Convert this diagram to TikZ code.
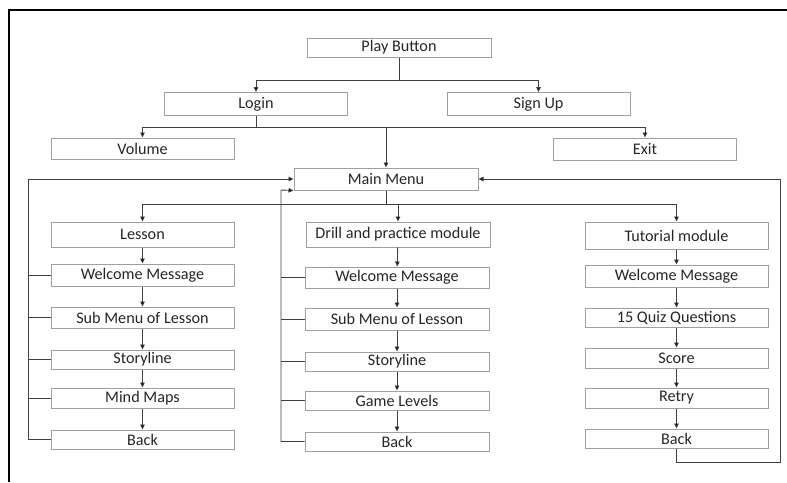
\documentclass[tikz,border=0pt]{standalone}
\usepackage{fontspec}
\setmainfont{Carlito}
\usetikzlibrary{arrows.meta}

\begin{document}
\begin{tikzpicture}[x=1pt,y=-1pt,
  box/.style={draw=gray!75,line width=1pt,inner sep=0pt,minimum width=183,
    font=\fontsize{16.2}{18}\selectfont,text=black!85},
  line/.style={draw=gray!50!black,line width=0.9pt},
  arr/.style={line,-{Triangle[length=5pt,width=4.5pt,fill=black]}}]

\useasboundingbox (0,0) rectangle (787,482);
\draw[line width=2.2pt] (9,482) -- (9,10) -- (787,10);

% top part
\node[box,minimum width=184,minimum height=19] (play) at (399,47.5) {Play Button};
\node[box,minimum height=23] (login) at (256,104) {Login};
\node[box,minimum height=23] (signup) at (538.5,104) {Sign Up};
\node[box,minimum height=21] (volume) at (142.5,148.5) {Volume};
\node[box,minimum height=22] (exit) at (645,149) {Exit};
\node[box,minimum width=184,minimum height=22] (main) at (386,179) {Main Menu};

% lesson column
\node[box,minimum height=25] (lesson) at (142.5,234.5) {Lesson};
\node[box,minimum height=22] (lwel) at (142.5,275) {Welcome Message};
\node[box,minimum height=21] (lsub) at (142.5,317.5) {Sub Menu of Lesson};
\node[box,minimum height=19] (lstory) at (142.5,359.5) {Storyline};
\node[box,minimum height=20] (lmind) at (142.5,398) {Mind Maps};
\node[box,minimum height=19] (lback) at (142.5,439.5) {Back};

% drill column
\node[box,minimum width=184,minimum height=25] (drill) at (398,234.5) {Drill and practice module};
\node[box,minimum width=184,minimum height=21] (dwel) at (397,277.5) {Welcome Message};
\node[box,minimum width=184,minimum height=22] (dsub) at (397,319) {Sub Menu of Lesson};
\node[box,minimum width=184,minimum height=19] (dstory) at (397,361.5) {Storyline};
\node[box,minimum width=184,minimum height=19] (dgame) at (397,400.5) {Game Levels};
\node[box,minimum width=184,minimum height=19] (dback) at (397,441.5) {Back};

% tutorial column
\node[box,minimum height=27] (tut) at (676.5,235.5) {Tutorial module};
\node[box,minimum height=22] (twel) at (676.5,276) {Welcome Message};
\node[box,minimum height=19] (tquiz) at (676.5,317.5) {15 Quiz Questions};
\node[box,minimum height=20] (tscore) at (676.5,358) {Score};
\node[box,minimum height=20] (tretry) at (676.5,398) {Retry};
\node[box,minimum height=19] (tback) at (676.5,438.5) {Back};

\coordinate (lrail) at (28,179);
\coordinate (mrail) at (281,190);
\coordinate (rrail) at (780,462);

% branches
\draw[arr] (play.south) -- ++(0,22.5) -| (login.north);
\draw[arr] (play.south) -- ++(0,22.5) -| (signup.north);
\draw[arr] (login.south) -- ++(0,11) -| (volume.north);
\draw[arr] (login.south) -- ++(0,11) -| (exit.north);
\draw[arr] (login.south) -- ++(0,11) -| (main.north);
\draw[arr] (main.south) -- ++(0,14) -| (lesson.north);
\draw[arr] (main.south) -- ++(0,14) -| (drill.north);
\draw[arr] (main.south) -- ++(0,14) -| (tut.north);

% columns
\draw[arr] (lesson) -- (lwel);
\draw[arr] (lwel) -- (lsub);
\draw[arr] (lsub) -- (lstory);
\draw[arr] (lstory) -- (lmind);
\draw[arr] (lmind) -- (lback);
\draw[arr] (drill) -- (dwel);
\draw[arr] (dwel) -- (dsub);
\draw[arr] (dsub) -- (dstory);
\draw[arr] (dstory) -- (dgame);
\draw[arr] (dgame) -- (dback);
\draw[arr] (tut) -- (twel);
\draw[arr] (twel) -- (tquiz);
\draw[arr] (tquiz) -- (tscore);
\draw[arr] (tscore) -- (tretry);
\draw[arr] (tretry) -- (tback);

% back to main menu
\draw[arr] (lback.west) -| (lrail) -- (main.west);
\foreach \n in {lwel,lsub,lstory,lmind}
  \draw[line] (\n.west) -- (\n.west -| lrail);
\draw[arr] (dback.west) -| (mrail) -- (main.south west);
\foreach \n in {dwel,dsub,dstory,dgame}
  \draw[line] (\n.west) -- (\n.west -| mrail);
\draw[arr] (tback.south) |- (rrail) |- (main.east);

\end{tikzpicture}
\end{document}
